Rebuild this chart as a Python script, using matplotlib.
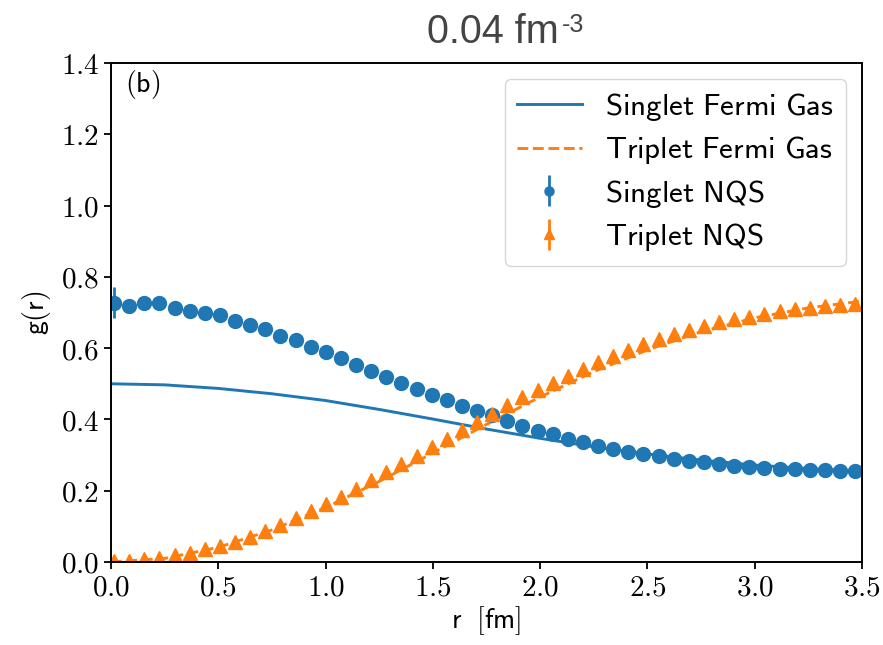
"""Pair distribution g(r) at 0.04 fm^-3: NQS vs free Fermi gas, singlet/triplet channels."""

import matplotlib

matplotlib.use("Agg")
import matplotlib.pyplot as plt
from matplotlib.ticker import FuncFormatter, MultipleLocator

plt.rcParams["mathtext.fontset"] = "cm"

# NQS points (50 radial bins)
r_nqs = [0.014 + 0.0705 * i for i in range(50)]
g_singlet = [
    0.728, 0.718, 0.726, 0.728, 0.713, 0.705, 0.700, 0.692, 0.677, 0.665,
    0.653, 0.634, 0.622, 0.604, 0.588, 0.572, 0.554, 0.537, 0.519, 0.502,
    0.485, 0.469, 0.454, 0.438, 0.424, 0.413, 0.396, 0.382, 0.368, 0.359,
    0.346, 0.337, 0.326, 0.318, 0.310, 0.302, 0.296, 0.290, 0.284, 0.280,
    0.275, 0.270, 0.267, 0.265, 0.262, 0.260, 0.258, 0.257, 0.256, 0.255,
]
err_singlet = [0.043] + [0.003] * 49
g_triplet = [
    0.003, 0.004, 0.007, 0.012, 0.019, 0.025, 0.036, 0.045, 0.057, 0.071,
    0.088, 0.104, 0.123, 0.143, 0.164, 0.183, 0.205, 0.230, 0.253, 0.274,
    0.298, 0.324, 0.346, 0.370, 0.393, 0.416, 0.441, 0.462, 0.483, 0.503,
    0.522, 0.542, 0.560, 0.578, 0.595, 0.612, 0.626, 0.640, 0.651, 0.662,
    0.673, 0.681, 0.688, 0.696, 0.703, 0.709, 0.714, 0.718, 0.721, 0.724,
]
err_triplet = [0.002] * 50

# free Fermi gas curves
r_fg = [0.0, 0.25, 0.5, 0.75, 1.0, 1.25, 1.5, 1.75, 2.0, 2.25, 2.5, 2.75, 3.0, 3.25, 3.5]
g_fg_singlet = [0.500, 0.497, 0.487, 0.472, 0.453, 0.428, 0.401, 0.373, 0.347, 0.323,
                0.303, 0.286, 0.272, 0.262, 0.256]
g_fg_triplet = [0.000, 0.010, 0.041, 0.090, 0.153, 0.226, 0.306, 0.386, 0.463, 0.534,
                0.595, 0.646, 0.685, 0.713, 0.732]

xticks = [0.0, 0.5, 1.0, 1.5, 2.0, 2.5, 3.0, 3.5]

fig = plt.figure(figsize=(8.83, 6.45), dpi=100)
ax = fig.add_axes([0.1257, 0.1287, 0.8505, 0.7736])

ax.plot(r_fg, g_fg_singlet, "-", color="C0", lw=2.1, label=r"$\mathsf{Singlet\ Fermi\ Gas}$")
ax.plot(r_fg, g_fg_triplet, "--", color="C1", lw=2.1, label=r"$\mathsf{Triplet\ Fermi\ Gas}$")
ax.errorbar(r_nqs, g_singlet, yerr=err_singlet, fmt="o", ms=10, color="C0",
            elinewidth=2, label=r"$\mathsf{Singlet\ NQS}$")
ax.errorbar(r_nqs, g_triplet, yerr=err_triplet, fmt="^", ms=10, color="C1",
            elinewidth=2, label=r"$\mathsf{Triplet\ NQS}$")

ax.set_xlim(0, 3.5)
ax.set_ylim(0, 1.4)
ax.set_xticks(xticks)
ax.yaxis.set_major_locator(MultipleLocator(0.2))
fmt = FuncFormatter(lambda v, _: f"${v:.1f}$")
ax.xaxis.set_major_formatter(fmt)
ax.yaxis.set_major_formatter(fmt)
ax.tick_params(labelsize=21, length=5, width=1.3)
for s in ax.spines.values():
    s.set_linewidth(1.4)

ax.set_xlabel(r"$\mathsf{r\ \ [fm]}$", fontsize=20, labelpad=2)
ax.set_ylabel(r"$\mathsf{g(r)}$", fontsize=20, labelpad=6)
ax.text(0.018, 0.99, r"$\mathsf{(b)}$", transform=ax.transAxes, fontsize=20, va="top")

ax.legend(loc="upper right", fontsize=22.3, handlelength=2.1, labelspacing=0.37,
          markerscale=0.65, handletextpad=0.75)

fig.text(427 / 883, 1 - 43 / 645, "0.04 fm", fontsize=28.5, color="#444444",
         family="Liberation Sans", va="baseline", ha="left")
fig.text(562 / 883, 1 - 31.7 / 645, "-3", fontsize=18, color="#444444",
         family="Liberation Sans", va="baseline", ha="left")

fig.savefig("out.png", dpi=100)
